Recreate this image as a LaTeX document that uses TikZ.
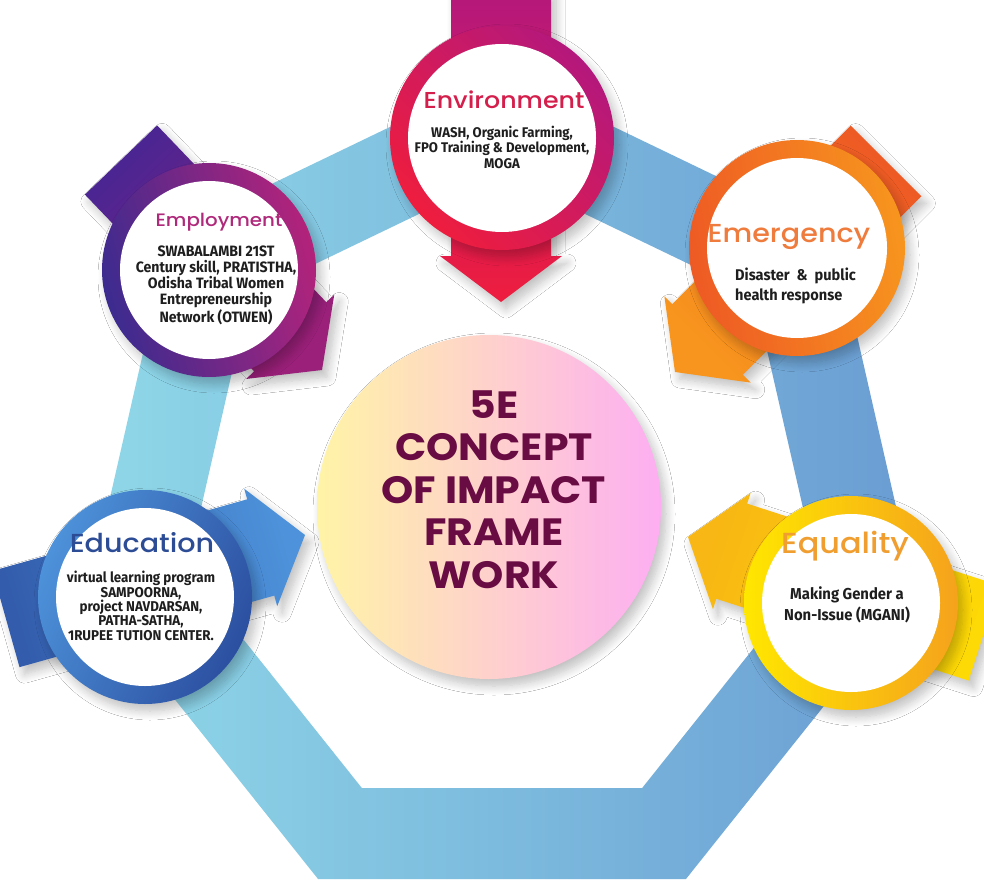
\documentclass[tikz,border=0pt]{standalone}
\usepackage{fontspec}
\setmainfont{Fira Sans}
\newfontfamily\ttlfont[UprightFont={* Medium}, FakeStretch=1.1]{Poppins}
\newfontfamily\ctrfont[FakeStretch=1.08]{Poppins}
\newfontfamily\bodyfont[FakeStretch=0.94]{Fira Sans}
\usetikzlibrary{calc,shadows.blur}

\definecolor{bandL}{HTML}{8FD8E8}
\definecolor{bandR}{HTML}{6A9DD3}
\definecolor{envA}{HTML}{EE1D3E}
\definecolor{envB}{HTML}{B4187C}
\definecolor{envTx}{HTML}{D41F4C}
\definecolor{empA}{HTML}{3C2B8F}
\definecolor{empB}{HTML}{B3237B}
\definecolor{empTl}{HTML}{4B2592}
\definecolor{empHd}{HTML}{9A2079}
\definecolor{empTx}{HTML}{B02A7C}
\definecolor{emgA}{HTML}{EE5A24}
\definecolor{emgB}{HTML}{F7951E}
\definecolor{emgTx}{HTML}{EF7B3C}
\definecolor{eduA}{HTML}{4D92DA}
\definecolor{eduB}{HTML}{2C4FA0}
\definecolor{eduTx}{HTML}{2C4C96}
\definecolor{equA}{HTML}{FFE700}
\definecolor{equB}{HTML}{F5A21C}
\definecolor{equTx}{HTML}{F09E30}
\definecolor{ctrA}{HTML}{FFF4A6}
\definecolor{ctrM}{HTML}{FDD3CC}
\definecolor{ctrB}{HTML}{FDAEF2}
\definecolor{ctrTx}{HTML}{6A0C44}
\definecolor{bodyTx}{HTML}{1E1E1E}

\tikzset{
  softshadow/.style={blur shadow={shadow blur steps=10, shadow xshift=5pt, shadow yshift=-7pt, shadow blur radius=9pt, shadow opacity=25}},
  ttl/.style={font=\ttlfont\fontsize{23}{28}\selectfont, anchor=base},
  txt/.style={font=\bodyfont\bfseries\fontsize{14}{15.5}\selectfont, align=center, text=bodyTx, anchor=base, inner sep=0pt},
  bigtxt/.style={font=\ctrfont\bfseries\fontsize{38}{42.5}\selectfont, align=center, text=ctrTx, anchor=base, inner sep=0pt}
}

\newcommand{\blockarrow}[5]{%
  \coordinate (nk) at ($(#2)!46pt!(#1)$);
  \shade[softshadow, left color=#3, right color=#4, shading angle=#5]
    ($(#1)!50pt!90:(#2)$) -- ($(nk)!50pt!-90:(#1)$) -- ($(nk)!61pt!-90:(#1)$) -- (#2)
    -- ($(nk)!61pt!90:(#1)$) -- ($(nk)!50pt!90:(#1)$) -- ($(#1)!50pt!-90:(#2)$) -- cycle;
}
\newcommand{\ringcircle}[6]{%
  \shade[softshadow, left color=#4, right color=#5, shading angle=#6] (#1) circle[radius=#2pt];
  \fill[white] (#1) circle[radius=#3pt];
}

\begin{document}
\begin{tikzpicture}[x=1pt,y=-1pt]
  \useasboundingbox (0,0) rectangle (984,883);
  \fill[white] (0,0) rectangle (984,883);

  \begin{scope}[shift={(502,497)}]
    \shade[even odd rule, left color=bandL, right color=bandR]
      (-90:424) \foreach \k in {1,...,6}{ -- (-90+\k*360/7:424)} -- cycle
      (-90:323) \foreach \k in {1,...,6}{ -- (-90+\k*360/7:323)} -- cycle;
  \end{scope}

  \coordinate (envS) at (501,-8);
  \coordinate (envE) at (501,302);
  \coordinate (empS) at (121,160);
  \coordinate (empE) at (322,370);
  \coordinate (emgS) at (886,161);
  \coordinate (emgE) at (675,372);
  \coordinate (eduS) at (6,619);
  \coordinate (eduE) at (305,535);
  \coordinate (equS) at (984,633);
  \coordinate (equE) at (688,537);

  \blockarrow{envS}{envE}{envB}{envA}{0}
  \blockarrow{empS}{empE}{empTl}{empHd}{44}
  \blockarrow{emgS}{emgE}{emgA}{emgB}{-45}
  \blockarrow{eduS}{eduE}{eduB!80!eduA}{eduA}{106}
  \blockarrow{equS}{equE}{equA!80!equB}{equB!70!equA}{252}

  \coordinate (env) at (502,138);
  \coordinate (emp) at (209,270);
  \coordinate (emg) at (797,248);
  \coordinate (edu) at (145,597);
  \coordinate (equ) at (851,603);

  \ringcircle{env}{112}{94}{envA}{envB}{135}
  \ringcircle{emp}{107}{89}{empA}{empB}{105}
  \ringcircle{emg}{108}{90}{emgA}{emgB}{100}
  \ringcircle{edu}{107}{89}{eduA}{eduB}{65}
  \ringcircle{equ}{107}{89}{equA}{equB}{90}

  \node[circle, minimum size=344pt, softshadow, left color=ctrA, middle color=ctrM, right color=ctrB] (ctr) at (489,507) {};

  \node[ttl, text=envTx] (envT) at (504,108) {Environment};
  \node[txt] (envX) at (502,168) {WASH, Organic Farming,\\FPO Training \& Development,\\MOGA};

  \node[ttl, text=empTx, font=\ttlfont\fontsize{18}{22}\selectfont] (empT) at (219,226) {Employment};
  \node[txt, font=\bodyfont\bfseries\fontsize{15}{16}\selectfont] (empX) at (216,322) {SWABALAMBI 21ST\\Century skill, PRATISTHA,\\Odisha Tribal Women\\Entrepreneurship\\Network (OTWEN)};

  \node[ttl, text=emgTx, font=\ttlfont\fontsize{26}{30}\selectfont] (emgT) at (789,242) {Emergency};
  \node[txt, align=left, anchor=base west, font=\bodyfont\bfseries\fontsize{15.5}{20}\selectfont] (emgX) at (735,300) {Disaster\ \ \&\ \ public\\health response};

  \node[ttl, text=eduTx, font=\ttlfont\fontsize{26}{30}\selectfont] (eduT) at (142,552) {Education};
  \node[txt, font=\bodyfont\bfseries\fontsize{14.2}{14.3}\selectfont] (eduX) at (141,640) {virtual learning program\\SAMPOORNA,\\project NAVDARSAN,\\PATHA-SATHA,\\1RUPEE TUTION CENTER.};

  \node[ttl, text=equTx, font=\ttlfont\fontsize{29}{34}\selectfont] (equT) at (845,553) {Equality};
  \node[txt, font=\bodyfont\bfseries\fontsize{15.8}{21}\selectfont] (equX) at (847,620) {Making Gender a\\Non-Issue (MGANI)};

  \node[bigtxt] (ctrX) at (494,588) {5E\\CONCEPT\\OF IMPACT\\FRAME\\WORK};
\end{tikzpicture}
\end{document}
